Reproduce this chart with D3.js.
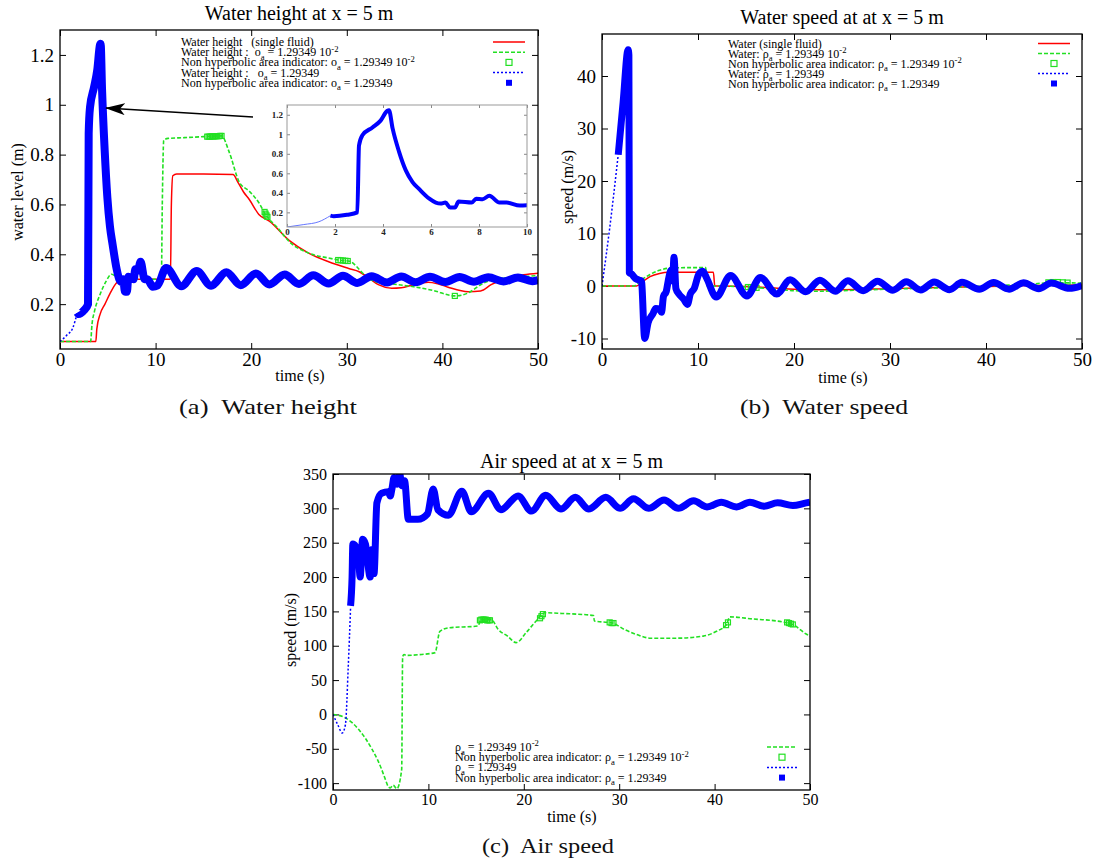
<!DOCTYPE html>
<html><head><meta charset="utf-8">
<script src="https://cdn.jsdelivr.net/npm/d3@7/dist/d3.min.js"></script>
<style>
body{margin:0;background:#fff}
svg{display:block}
text{font-family:"Liberation Serif","Times New Roman",serif;white-space:pre}
</style>
</head><body>
<svg id="chart" width="1095" height="862"></svg>
<script>
// ---------------- DATA ----------------
const timeTicks = [0, 10, 20, 30, 40, 50];
const levelTicks = [0.2, 0.4, 0.6, 0.8, 1, 1.2];
const waterSpeedTicks = [-10, 0, 10, 20, 30, 40];
const airSpeedTicks = [-100, -50, 0, 50, 100, 150, 200, 250, 300, 350];
const insetTimeTicks = [0, 2, 4, 6, 8, 10];
const insetLevelTicks = [0.2, 0.4, 0.6, 0.8, 1, 1.2];

// (a) water height
const hRedT = [0, 3.75, 3.85, 4.2, 4.7, 5.2, 5.9, 6.5, 8, 11.55, 11.65, 11.8, 12.2, 15, 18.1, 18.6, 19.2, 19.8, 20.8, 21.9, 24, 26, 28.1, 30.2, 31.3, 32.3, 33.3, 34.7, 35.7, 37, 38.5, 39.5, 40.6, 42.7, 44, 45.1, 46.9, 48.5, 50];
const hRedY = [0.05, 0.05, 0.1, 0.16, 0.2, 0.24, 0.285, 0.297, 0.3, 0.3, 0.6, 0.715, 0.722, 0.722, 0.72, 0.69, 0.65, 0.62, 0.56, 0.533, 0.455, 0.405, 0.37, 0.343, 0.33, 0.305, 0.278, 0.264, 0.266, 0.278, 0.288, 0.282, 0.268, 0.25, 0.253, 0.278, 0.307, 0.318, 0.324];
const hGreenT = [0, 3.2, 3.35, 3.6, 4.2, 4.8, 5.4, 5.9, 7, 10.6, 10.7, 10.85, 11.3, 13, 15, 16.9, 17.7, 18.75, 19.8, 20.8, 21.5, 22.9, 24, 26, 28.1, 29.2, 30.3, 31.0, 31.6, 33, 35, 37, 39, 41.3, 42.7, 44, 45.5, 47.5, 50];
const hGreenY = [0.05, 0.05, 0.12, 0.17, 0.24, 0.29, 0.32, 0.31, 0.30, 0.30, 0.6, 0.857, 0.865, 0.868, 0.872, 0.875, 0.81, 0.69, 0.653, 0.607, 0.56, 0.5, 0.45, 0.405, 0.385, 0.377, 0.372, 0.352, 0.327, 0.29, 0.28, 0.27, 0.255, 0.233, 0.245, 0.278, 0.3, 0.307, 0.315];
const hGreenMarkT = [15.4, 15.55, 15.7, 15.85, 16.0, 16.15, 16.3, 16.45, 16.6, 16.75, 16.9, 21.4, 21.5, 21.6, 21.7, 29.1, 29.35, 29.6, 29.85, 30.1, 41.3];
const hGreenMarkY = [0.872, 0.872, 0.872, 0.873, 0.873, 0.873, 0.874, 0.874, 0.874, 0.875, 0.875, 0.57, 0.563, 0.556, 0.55, 0.377, 0.376, 0.375, 0.374, 0.373, 0.233];
const hBlueDotT = [0, 0.7, 1.33, 1.81];
const hBlueDotY = [0.05, 0.075, 0.104, 0.166];
const hBlueT = [1.81, 1.95, 2.5, 2.93, 3.0, 3.14, 3.56, 3.9, 4.18, 4.25, 4.4, 4.67, 4.95, 5.23, 5.5, 5.93, 6.2, 6.4, 6.6, 6.8, 7.0, 7.15, 7.7, 7.88, 8.15, 8.43, 8.85, 9.15, 9.7, 10.2, 11.1, 12.7, 14.3, 15.8, 17.4, 18.9, 20.5, 21.9, 23.5, 25.0, 26.5, 28.1, 29.6, 31.1, 32.6, 34.2, 35.7, 37.2, 38.7, 40.3, 41.8, 43.3, 44.8, 46.4, 47.9, 49.4, 50];
const hBlueY = [0.166, 0.16, 0.175, 0.2, 0.885, 0.99, 1.07, 1.14, 1.24, 1.245, 1.06, 0.82, 0.63, 0.51, 0.44, 0.34, 0.30, 0.29, 0.30, 0.25, 0.25, 0.31, 0.30, 0.34, 0.335, 0.37, 0.30, 0.30, 0.27, 0.275, 0.345, 0.272, 0.333, 0.274, 0.328, 0.276, 0.323, 0.279, 0.319, 0.281, 0.316, 0.283, 0.314, 0.285, 0.312, 0.287, 0.311, 0.288, 0.31, 0.289, 0.309, 0.29, 0.308, 0.291, 0.307, 0.292, 0.296];

// (b) water speed
const uRedT = [0, 3.6, 4.2, 5.0, 6.0, 7.0, 11.6, 11.75, 12.5, 15, 18, 20, 25, 30, 35, 40, 45, 50];
const uRedY = [0, 0, 0.8, 1.8, 2.4, 2.6, 2.6, 0, 0, -0.1, -0.4, -0.6, -0.7, -0.5, -0.3, -0.1, 0.1, 0.2];
const uGreenT = [0, 3.3, 4.0, 5.0, 6.0, 7.0, 9.0, 10.8, 10.95, 12, 14, 16, 18, 20, 22, 25, 28, 32, 36, 40, 44, 47, 49, 50];
const uGreenY = [0, 0, 1.0, 2.2, 3.0, 3.4, 3.5, 3.5, 0, 0, -0.1, -0.3, -0.6, -0.9, -1.0, -0.9, -0.7, -0.5, -0.3, 0, 0.3, 0.6, 0.6, 0.5];
const uGreenMarkT = [15.2, 15.5, 15.8, 16.1, 46.5, 47, 47.5, 48, 48.5];
const uGreenMarkY = [-0.2, -0.25, -0.3, -0.35, 0.7, 0.75, 0.75, 0.7, 0.65];
const uBlueDotT = [0, 0.8, 1.69];
const uBlueDotY = [0, 11, 25];
const uBlueT = [1.69, 2.2, 2.72, 2.8, 2.85, 3.07, 3.5, 3.9, 4.1, 4.45, 4.8, 5.3, 5.6, 6.0, 6.2, 6.4, 6.7, 6.9, 7.2, 7.35, 7.5, 7.7, 8.0, 8.5, 8.9, 9.2, 9.6, 10.1, 10.5, 10.9, 11.9, 13.4, 15.1, 16.5, 18.2, 19.6, 21.2, 22.7, 24.3, 25.6, 27.2, 28.7, 30.3, 31.7, 33.2, 34.6, 36.2, 37.5, 39.3, 40.8, 42.4, 43.9, 45.5, 46.8, 48.7, 50];
const uBlueY = [25, 35, 45, 44, 2.5, 2.3, 1.4, 1.1, 1.0, -10, -7, -5.3, -4.3, -4.5, -5, -2, -1, 1, 3, 1, 5.5, -0.5, -1.5, -2.5, -3.5, -1.5, -0.5, 2.3, 2.8, 1.5, -2.1, 2.0, -1.9, 1.6, -1.5, 1.2, -1.1, 1.1, -1.0, 1.0, -0.9, 0.9, -0.8, 0.8, -0.75, 0.75, -0.7, 0.7, -0.6, 0.65, -0.6, 0.6, -0.5, 0.55, -0.45, 0.1];

// (c) air speed
const aGreenT = [0, 0.5, 1.3, 2.0, 2.7, 3.4, 4.1, 4.7, 5.1, 5.5, 5.75, 6.0, 6.3, 6.7, 7.2, 7.3, 7.45, 7.7, 9.0, 10.7, 11.2, 12.1, 15.2, 15.5, 16.6, 17.3, 18.3, 19.2, 20.3, 21.3, 22.2, 24, 27.3, 27.4, 29.3, 30.5, 31.9, 33.3, 36, 38.8, 40.2, 41.25, 41.6, 44, 47.2, 48.2, 49.6, 50];
const aGreenY = [0, -1, -5, -12, -22, -35, -51, -67, -80, -95, -104, -107, -103, -108, -80, 84, 87, 86, 87, 90, 121, 126, 128.7, 138, 138, 124, 114, 104.5, 120, 136, 148, 147, 144, 136, 133, 124, 116, 111, 111, 114, 121, 131, 142, 139, 134.5, 131, 117, 114];
const aGreenMarkT = [15.4, 15.55, 15.7, 15.85, 16.0, 16.15, 16.3, 16.45, 21.7, 21.85, 22.0, 29.0, 29.2, 29.4, 41.2, 41.4, 47.6, 47.8, 48.0, 48.2];
const aGreenMarkY = [137, 138, 138, 138, 138, 137, 137, 137, 140, 143, 146, 134, 133, 133, 130, 134, 134, 133, 132, 131];
const aBlueDotT = [0, 0.5, 0.97, 1.3, 1.6, 1.84];
const aBlueDotY = [0, -15, -27, -15, 70, 155];
const aBlueT = [1.84, 2.0, 2.08, 2.36, 2.5, 2.6, 2.85, 3.1, 3.4, 3.9, 4.1, 4.3, 4.6, 5.1, 5.8, 6.0, 6.2, 6.4, 6.7, 7.0, 7.2, 7.5, 7.9, 8.9, 9.9, 10.5, 11.0, 12.1, 13.5, 14.5, 16.3, 17.6, 19.4, 20.8, 22.3, 23.9, 25.4, 26.8, 28.6, 30.1, 31.5, 33.1, 34.7, 36.2, 37.8, 39.2, 40.7, 42.3, 43.7, 45.2, 46.6, 48.2, 49.6, 50];
const aBlueY = [158, 200, 248, 245, 220, 240, 200, 255, 248, 200, 240, 205, 308, 322, 324, 318, 330, 345, 335, 350, 333, 340, 284, 284, 292, 328, 298, 290, 325, 295, 322, 298, 318, 296, 319, 299, 316, 299, 316, 300, 314, 300, 312, 300, 311, 302, 309, 302, 309, 303, 308, 304, 308, 309];

// legend texts
const legendA = ["Water height   (single fluid)", "Water height :  o_{a} = 1.29349 10^{-2}", "Non hyperbolic area indicator: o_{a} = 1.29349 10^{-2}", "Water height :   o_{a} = 1.29349", "Non hyperbolic area indicator: o_{a} = 1.29349"];
const legendB = ["Water (single fluid)", "Water: ρ_{a} = 1.29349 10^{-2}", "Non hyperbolic area indicator: ρ_{a} = 1.29349 10^{-2}", "Water: ρ_{a} = 1.29349", "Non hyperbolic area indicator: ρ_{a} = 1.29349"];
const legendC = ["ρ_{a} = 1.29349 10^{-2}", "Non hyperbolic area indicator: ρ_{a} = 1.29349 10^{-2}", "ρ_{a} = 1.29349", "Non hyperbolic area indicator: ρ_{a} = 1.29349"];

// ---------------- DRAW ----------------
const RED = "#ff0000", GREEN = "#22e022", BLUE = "#0000ff";
const svg = d3.select("#chart");
const defs = svg.append("defs");
const zip = (T, Y) => T.map((t, i) => [t, Y[i]]);

function rich(sel, s, fs) {
  const parts = s.split(/(_\{[^}]*\}|\^\{[^}]*\})/).filter(d => d !== "");
  let cur = 0;
  parts.forEach(p => {
    let target = 0, txt = p, size = fs;
    if (p.startsWith("_{")) { target = fs * 0.3; txt = p.slice(2, -1); size = fs * 0.72; }
    else if (p.startsWith("^{")) { target = -fs * 0.38; txt = p.slice(2, -1); size = fs * 0.72; }
    sel.append("tspan").attr("dy", target - cur).attr("font-size", size).text(txt);
    cur = target;
  });
}

function panel(p) {
  const x = d3.scaleLinear().domain(p.xd).range([p.L, p.R]);
  const y = d3.scaleLinear().domain(p.yd).range([p.B, p.T]);
  const g = svg.append("g");
  defs.append("clipPath").attr("id", "clip" + p.id).append("rect")
    .attr("x", p.L).attr("y", p.T).attr("width", p.R - p.L).attr("height", p.B - p.T);

  const styleAxis = (a, showText) => {
    a.select(".domain").remove();
    a.selectAll(".tick line").attr("stroke", "#000").attr("stroke-width", 1);
    a.selectAll("text").attr("font-family", null).attr("font-size", p.tfs).attr("fill", "#000");
    if (!showText) a.selectAll("text").remove();
    a.attr("font-family", null);
  };
  const fmt = d => String(d);
  g.append("g").attr("transform", `translate(0,${p.B})`)
    .call(d3.axisBottom(x).tickValues(p.xt).tickFormat(fmt).tickSizeInner(-6).tickSizeOuter(0).tickPadding(4))
    .call(a => styleAxis(a, true));
  g.append("g").attr("transform", `translate(0,${p.T})`)
    .call(d3.axisTop(x).tickValues(p.xt).tickSizeInner(-6).tickSizeOuter(0))
    .call(a => styleAxis(a, false));
  g.append("g").attr("transform", `translate(${p.L},0)`)
    .call(d3.axisLeft(y).tickValues(p.yt).tickFormat(fmt).tickSizeInner(-6).tickSizeOuter(0).tickPadding(6))
    .call(a => styleAxis(a, true));
  g.append("g").attr("transform", `translate(${p.R},0)`)
    .call(d3.axisRight(y).tickValues(p.yt).tickSizeInner(-6).tickSizeOuter(0))
    .call(a => styleAxis(a, false));

  // title, labels
  svg.append("text").attr("x", (p.L + p.R) / 2).attr("y", p.titleY).attr("text-anchor", "middle")
    .attr("font-size", 20).text(p.title);
  svg.append("text").attr("x", p.xlX).attr("y", p.xlY).attr("text-anchor", "middle")
    .attr("font-size", 16).text("time (s)");
  svg.append("text").attr("transform", `translate(${p.ylX},${p.ylY}) rotate(-90)`).attr("text-anchor", "middle")
    .attr("font-size", 16).text(p.ylabel);
  svg.append("text").attr("x", p.capX).attr("y", p.capY).attr("text-anchor", "middle")
    .attr("font-size", 21).attr("fill", "#111")
    .attr("textLength", p.capW).attr("lengthAdjust", "spacingAndGlyphs").text(p.caption);

  const plot = svg.append("g").attr("clip-path", `url(#clip${p.id})`);
  const ln = d3.line().x(d => x(d[0])).y(d => y(d[1])).curve(d3.curveMonotoneX);
  if (p.red) plot.append("path").attr("d", ln(p.red)).attr("fill", "none").attr("stroke", RED).attr("stroke-width", 1.5);
  plot.append("path").attr("d", ln(p.green)).attr("fill", "none").attr("stroke", GREEN).attr("stroke-width", 1.6).attr("stroke-dasharray", "4,2");
  plot.selectAll(".gm").data(p.greenMark).enter().append("rect")
    .attr("x", d => x(d[0]) - 2.5).attr("y", d => y(d[1]) - 2.5).attr("width", 5).attr("height", 5)
    .attr("fill", "none").attr("stroke", GREEN).attr("stroke-width", 1.2);
  plot.append("path").attr("d", ln(p.blueDot)).attr("fill", "none").attr("stroke", BLUE).attr("stroke-width", 1.5).attr("stroke-dasharray", "2,2");
  plot.append("path").attr("d", ln(p.blue)).attr("fill", "none").attr("stroke", BLUE).attr("stroke-width", p.bw).attr("stroke-linejoin", "round");

  // frame
  svg.append("rect").attr("x", p.L).attr("y", p.T).attr("width", p.R - p.L).attr("height", p.B - p.T)
    .attr("fill", "none").attr("stroke", "#000").attr("stroke-width", 1.3);

  // legend
  const lg = svg.append("g");
  p.legend.forEach((s, i) => {
    const t = lg.append("text").attr("x", p.lgX).attr("y", p.lgY + i * p.lgDy).attr("font-size", 12);
    rich(t, s, 12);
    const ky = p.lgY + i * p.lgDy - 4;
    const k = p.keys[i];
    if (k === "red") lg.append("line").attr("x1", p.kx0).attr("x2", p.kx1).attr("y1", ky).attr("y2", ky).attr("stroke", RED).attr("stroke-width", 1.5);
    if (k === "gd") lg.append("line").attr("x1", p.kx0).attr("x2", p.kx1).attr("y1", ky).attr("y2", ky).attr("stroke", GREEN).attr("stroke-width", 1.6).attr("stroke-dasharray", "4,2");
    if (k === "gs") lg.append("rect").attr("x", (p.kx0 + p.kx1) / 2 - 3).attr("y", ky - 3).attr("width", 6).attr("height", 6).attr("fill", "none").attr("stroke", GREEN).attr("stroke-width", 1.2);
    if (k === "bd") lg.append("line").attr("x1", p.kx0).attr("x2", p.kx1).attr("y1", ky).attr("y2", ky).attr("stroke", BLUE).attr("stroke-width", 1.5).attr("stroke-dasharray", "2,2");
    if (k === "bs") lg.append("rect").attr("x", (p.kx0 + p.kx1) / 2 - 3).attr("y", ky - 3).attr("width", 6).attr("height", 6).attr("fill", BLUE);
  });
  return { x, y };
}

panel({
  id: "a", L: 60, R: 538, T: 30, B: 349, xd: [0, 50], yd: [0.02, 1.3], xt: timeTicks, yt: levelTicks, tfs: 19,
  title: "Water height at x = 5 m", titleY: 20, xlX: 300, xlY: 381, ylX: 23, ylY: 192, ylabel: "water level (m)",
  caption: "(a)  Water height", capX: 268, capY: 414, capW: 178,
  red: zip(hRedT, hRedY), green: zip(hGreenT, hGreenY), greenMark: zip(hGreenMarkT, hGreenMarkY),
  blueDot: zip(hBlueDotT, hBlueDotY), blue: zip(hBlueT, hBlueY), bw: 8,
  legend: legendA, keys: ["red", "gd", "gs", "bd", "bs"], lgX: 181, lgY: 46, lgDy: 10.2, kx0: 493, kx1: 525
});
panel({
  id: "b", L: 602, R: 1082, T: 34, B: 349, xd: [0, 50], yd: [-12, 48], xt: timeTicks, yt: waterSpeedTicks, tfs: 19,
  title: "Water speed at at x = 5 m", titleY: 24, xlX: 843, xlY: 383, ylX: 573, ylY: 187, ylabel: "speed (m/s)",
  caption: "(b)  Water speed", capX: 824, capY: 414, capW: 168,
  red: zip(uRedT, uRedY), green: zip(uGreenT, uGreenY), greenMark: zip(uGreenMarkT, uGreenMarkY),
  blueDot: zip(uBlueDotT, uBlueDotY), blue: zip(uBlueT, uBlueY), bw: 7,
  legend: legendB, keys: ["red", "gd", "gs", "bd", "bs"], lgX: 728, lgY: 47.5, lgDy: 10, kx0: 1038, kx1: 1070
});
panel({
  id: "c", L: 333, R: 810, T: 474, B: 790, xd: [0, 50], yd: [-110, 350], xt: timeTicks, yt: airSpeedTicks, tfs: 16,
  title: "Air speed at at x = 5 m", titleY: 468, xlX: 572, xlY: 822, ylX: 296, ylY: 630, ylabel: "speed (m/s)",
  caption: "(c)  Air speed", capX: 548, capY: 853, capW: 132,
  red: null, green: zip(aGreenT, aGreenY), greenMark: zip(aGreenMarkT, aGreenMarkY),
  blueDot: zip(aBlueDotT, aBlueDotY), blue: zip(aBlueT, aBlueY), bw: 7,
  legend: legendC, keys: ["gd", "gs", "bd", "bs"], lgX: 455, lgY: 751, lgDy: 10.2, kx0: 767, kx1: 797
});

// ---------------- INSET (zoom of blue height 0-10 s) ----------------
(function () {
  const L = 287, R = 527, T = 105, B = 227;
  const x = d3.scaleLinear().domain([0, 10]).range([L, R]);
  const y = d3.scaleLinear().domain([0.05, 1.3]).range([B, T]);
  const g = svg.append("g");
  g.append("rect").attr("x", L).attr("y", T).attr("width", R - L).attr("height", B - T).attr("fill", "#fff");
  defs.append("clipPath").attr("id", "clipInset").append("rect").attr("x", L).attr("y", T).attr("width", R - L).attr("height", B - T);
  const sty = (a, show) => {
    a.select(".domain").remove();
    a.selectAll(".tick line").attr("stroke", "#888");
    a.selectAll("text").attr("font-family", null).attr("font-size", 9).attr("font-weight", "bold").attr("fill", "#222");
    if (!show) a.selectAll("text").remove();
  };
  g.append("g").attr("transform", `translate(0,${B})`).call(d3.axisBottom(x).tickValues(insetTimeTicks).tickFormat(d => String(d)).tickSizeInner(-3).tickSizeOuter(0).tickPadding(2)).call(a => sty(a, true));
  g.append("g").attr("transform", `translate(0,${T})`).call(d3.axisTop(x).tickValues(insetTimeTicks).tickSizeInner(-3).tickSizeOuter(0)).call(a => sty(a, false));
  g.append("g").attr("transform", `translate(${L},0)`).call(d3.axisLeft(y).tickValues(insetLevelTicks).tickFormat(d => String(d)).tickSizeInner(-3).tickSizeOuter(0).tickPadding(4)).call(a => sty(a, true));
  g.append("g").attr("transform", `translate(${R},0)`).call(d3.axisRight(y).tickValues(insetLevelTicks).tickSizeInner(-3).tickSizeOuter(0)).call(a => sty(a, false));
  const ln = d3.line().x(d => x(d[0])).y(d => y(d[1])).curve(d3.curveMonotoneX);
  const pl = g.append("g").attr("clip-path", "url(#clipInset)");
  pl.append("path").attr("d", ln(zip(hBlueDotT, hBlueDotY))).attr("fill", "none").attr("stroke", "#6677ff").attr("stroke-width", 1);
  pl.append("path").attr("d", ln(zip(hBlueT, hBlueY).filter(d => d[0] <= 10.5))).attr("fill", "none").attr("stroke", BLUE).attr("stroke-width", 4).attr("stroke-linejoin", "round");
  g.append("rect").attr("x", L).attr("y", T).attr("width", R - L).attr("height", B - T).attr("fill", "none").attr("stroke", "#999").attr("stroke-width", 1);
})();

// arrow pointing from inset to the peak
defs.append("marker").attr("id", "ah").attr("viewBox", "0 0 20 12").attr("refX", 19).attr("refY", 6)
  .attr("markerWidth", 20).attr("markerHeight", 12).attr("markerUnits", "userSpaceOnUse").attr("orient", "auto")
  .append("path").attr("d", "M0,0 L20,6 L0,12 L5,6 Z").attr("fill", "#000");
svg.append("line").attr("x1", 253).attr("y1", 117).attr("x2", 106).attr("y2", 108)
  .attr("stroke", "#000").attr("stroke-width", 1.3).attr("marker-end", "url(#ah)");
</script>
</body></html>
